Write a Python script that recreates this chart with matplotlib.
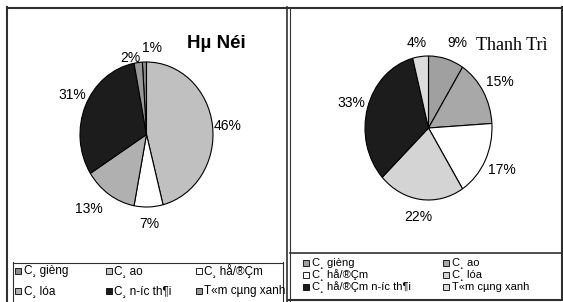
import matplotlib
matplotlib.use("Agg")
import numpy as np
import matplotlib.pyplot as plt
from matplotlib.lines import Line2D
from matplotlib.patches import Rectangle

plt.rcParams["font.family"] = ["Liberation Sans", "DejaVu Sans"]

W, H = 563, 302

# data
categories_hn = ["C¸ gièng", "C¸ ao", "C¸ hå/®Çm", "C¸ lóa", "C¸ n\u00adíc th¶i", "T«m cµng xanh"]
values_hn = [1, 46, 7, 13, 31, 2]
colors_hn = ["#8c8c8c", "#c0c0c0", "#ffffff", "#b0b0b0", "#1c1c1c", "#999999"]

categories_tt = ["C¸ gièng", "C¸ ao", "C¸ hå/®Çm", "C¸ lóa", "C¸ hå/®Çm n\u00adíc th¶i", "T«m cµng xanh"]
values_tt = [9, 15, 17, 22, 33, 4]
colors_tt = ["#a0a0a0", "#a8a8a8", "#ffffff", "#d4d4d4", "#1c1c1c", "#dcdcdc"]


def fx(x):
    return x / W


def fy(y):
    return 1 - y / H


fig = plt.figure(figsize=(W / 100, H / 100), dpi=100)


def hline(x0, x1, y, lw=1.0, color="#303030"):
    fig.add_artist(Line2D([fx(x0), fx(x1)], [fy(y), fy(y)], lw=lw, color=color))


def vline(x, y0, y1, lw=1.0, color="#303030"):
    fig.add_artist(Line2D([fx(x), fx(x)], [fy(y0), fy(y1)], lw=lw, color=color))


# panel frames
hline(7, 562, 7.5, lw=1.5)
vline(7.5, 7, 302, lw=1.5)
vline(287, 7, 302, lw=1.2)
vline(289.5, 7, 302, lw=0.8)
vline(562, 7, 300, lw=1.5)
hline(288, 562, 300, lw=1.5)
# legend boxes
hline(13, 283, 262.5, lw=0.8)
vline(13, 262, 302, lw=0.8)
vline(283, 262, 302, lw=0.8)
hline(290, 562, 252.5, lw=1.2)


def draw_pie(rect, values, colors, start, dists, offsets):
    ax = fig.add_axes(rect)
    wedges, texts, autotexts = ax.pie(
        values, colors=colors, startangle=start, counterclock=False,
        autopct="%1.0f%%",
        wedgeprops=dict(edgecolor="black", linewidth=0.8),
        textprops=dict(fontsize=10, color="black"))
    # nudge the percentage labels outward like the original chart
    for w, t, d, off in zip(wedges, autotexts, dists, offsets):
        ang = np.deg2rad((w.theta1 + w.theta2) / 2 + off)
        t.set_position((d * np.cos(ang), d * np.sin(ang)))
    ax.set_aspect("auto")
    ax.set_xlim(-1, 1)
    ax.set_ylim(-1, 1)
    ax.axis("off")
    return ax


# Ha Noi pie (first slice sits just left of 12 o'clock)
start_hn = 90 + values_hn[0] / sum(values_hn) * 360
draw_pie([fx(80), fy(207), 133 / W, 145 / H], values_hn, colors_hn, start_hn,
         [1.19, 1.22, 1.23, 1.34, 1.24, 1.08], [-6, -2, 0, -6, -3, 6])
fig.text(fx(216), fy(43), "Hµ Néi", fontsize=13.5, fontweight="bold",
         ha="center", va="center")

# Thanh Tri pie
draw_pie([fx(365), fy(200), 127 / W, 144 / H], values_tt, colors_tt, 90,
         [1.27, 1.29, 1.29, 1.25, 1.26, 1.2], [-5, -1, 0, 0, 0, 2])
fig.text(fx(512), fy(45), "Thanh Trì", fontsize=13, family="Liberation Serif",
         ha="center", va="center")


def draw_legend(labels, colors, xs, ys, ncol, fontsize):
    for i, (lab, col) in enumerate(zip(labels, colors)):
        r, c = divmod(i, ncol)
        x, y = xs[c], ys[r]
        fig.add_artist(Rectangle((fx(x), fy(y + 3)), 6 / W, 6 / H,
                                 facecolor=col, edgecolor="black", lw=0.6))
        fig.text(fx(x + 8.5), fy(y), lab, fontsize=fontsize,
                 ha="left", va="center")


draw_legend(categories_hn, colors_hn, [15, 106, 196], [271, 291], 3, 8.5)
draw_legend(categories_tt, colors_tt, [303, 443], [263, 275, 287], 2, 8)

fig.savefig("out.png", dpi=100)
